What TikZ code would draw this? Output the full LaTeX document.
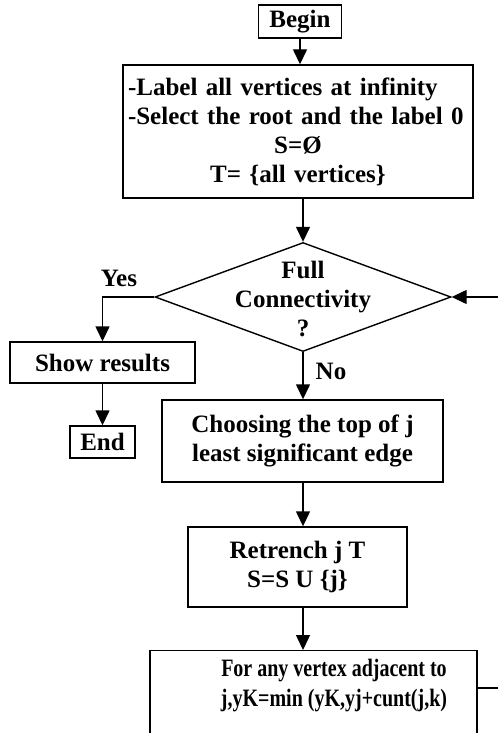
\documentclass[tikz,border=0pt]{standalone}
\usepackage{fontspec}
\setmainfont{Liberation Serif}
\newfontfamily\narrowserif{Liberation Serif}[FakeStretch=0.8]
\usetikzlibrary{arrows.meta, positioning, shapes.geometric}

\begin{document}
\begin{tikzpicture}[
    x=1pt, y=-1pt,
    box/.style={
      rectangle, draw=black, line width=1.4pt, fill=white,
      inner sep=2pt, align=center,
      font=\fontsize{25}{29}\selectfont\bfseries
    },
    decision/.style={diamond, draw=black, line width=1.4pt, inner sep=0pt},
    txt/.style={align=center, font=\fontsize{25}{29}\selectfont\bfseries},
    arr/.style={-{Triangle[length=15pt, width=14pt]}, line width=1.4pt},
    link/.style={line width=1.4pt}
  ]
    \clip (0,0) rectangle (498,733);

    \node[box, minimum width=83pt, minimum height=33pt]  (begin) at (300,21.5) {Begin};
    \node[box, inner xsep=5pt, text width=340pt, align=left, minimum height=133pt] (init) at (298,131.5)
      {-Label all vertices at infinity\\
       -Select the root and the label 0\\
       \makebox[340pt]{S=Ø}\\
       \makebox[340pt]{T= \{all vertices\}}};
    \node[decision, minimum width=296pt, minimum height=109pt] (full) at (303,297) {};
    \node[txt] (fulltext) at (303,299) {Full\\Connectivity\\?};
    \node[box, minimum width=185pt, minimum height=41pt] (show) at (102.5,362.5) {Show results};
    \node[box, minimum width=65pt, minimum height=32pt]  (end) at (102.5,442) {End};
    \node[box, minimum width=281pt, minimum height=82pt] (choose) at (302.5,441)
      {Choosing the top of j\\ least significant edge};
    \node[box, minimum width=219pt, minimum height=80pt] (retrench) at (297.5,567)
      {Retrench j T\\ S=S U \{j\}};
    \node[box, minimum width=327pt, minimum height=140pt, anchor=north] (vertex) at (313.5,650) {};
    \node[txt, font=\fontsize{25}{30}\selectfont\bfseries\narrowserif] (vertextext) at (334,686)
      {For any vertex adjacent to\\ j,yK=min (yK,yj+cunt(j,k)};

    \node[txt] (yes) at (119,278) {Yes};
    \node[txt] (no) at (331,371) {No};
    \coordinate (loopin) at (498,297);
    \coordinate (loopout) at (498,688);

    \draw[arr] (begin.south) -- (begin.south |- init.north);
    \draw[arr] (init.south -| full.north) -- (full.north);
    \draw[arr] (full.west) -| (show.north);
    \draw[arr] (show.south) -- (end.north);
    \draw[arr] (full.south) -- (full.south |- choose.north);
    \draw[arr] (choose.south -| full.south) -- (full.south |- retrench.north);
    \draw[arr] (retrench.south -| full.south) -- (full.south |- vertex.north);
    \draw[link] (vertex.east |- loopout) -- (loopout);
    \draw[arr] (loopin) -- (full.east);
  \end{tikzpicture}
\end{document}
